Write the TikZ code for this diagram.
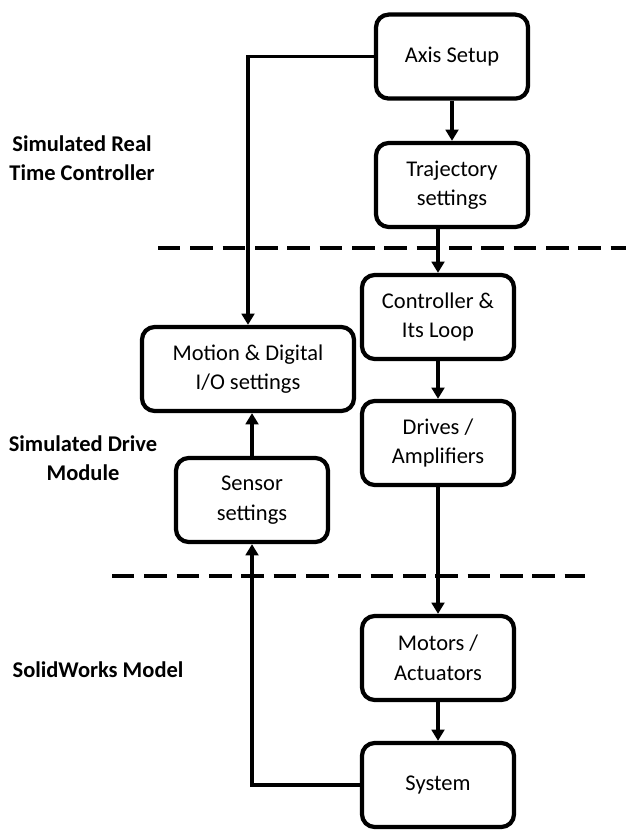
\documentclass[tikz,border=0pt]{standalone}
\usepackage{fontspec}
\setmainfont{Carlito}
\usetikzlibrary{arrows.meta}

\begin{document}
\begin{tikzpicture}[
            box/.style={rectangle, rounded corners=9pt, draw, line width=3pt, minimum width=3.8cm, minimum height=2.1cm, text centered, align=center, font=\fontsize{16}{21}\selectfont},
            zone/.style={align=center, font=\bfseries\fontsize{16}{21}\selectfont},
            arrow/.style={-{Triangle[length=8pt,width=9pt]}, line width=2.6pt},
            divider/.style={line width=3.5pt, dash pattern=on 16pt off 7pt}
        ]
            \useasboundingbox (0,0) rectangle (15.65,20.825);

            % Real time controller
            \node[box] (axis) at (11.3,19.41) {Axis Setup};
            \node[box] (traj) at (11.3,16.2) {Trajectory\\settings};

            % Drive module
            \node[box] (ctrl) at (10.95,12.9) {Controller \&\\Its Loop};
            \node[box] (drives) at (10.95,9.75) {Drives /\\Amplifiers};
            \node[box, minimum width=5.3cm] (motion) at (6.2,11.6) {Motion \& Digital\\I/O settings};
            \node[box] (sensor) at (6.3,8.325) {Sensor\\settings};

            % SolidWorks model
            \node[box] (motors) at (10.95,4.375) {Motors /\\Actuators};
            \node[box] (system) at (10.95,1.2) {System};

            % Zone names
            \node[zone] (zrt) at (2.05,16.875) {Simulated Real\\Time Controller};
            \node[zone] (zdm) at (2.075,9.375) {Simulated Drive\\Module};
            \node[zone] (zsw) at (2.45,4.075) {SolidWorks Model};

            % Dividers
            \coordinate (d1a) at (3.95,14.625);
            \coordinate (d1b) at (15.65,14.625);
            \coordinate (d2a) at (2.8,6.425);
            \coordinate (d2b) at (14.625,6.425);
            \draw[divider] (d1a) -- (d1b);
            \draw[divider] (d2a) -- (d2b);

            % Connections
            \draw[arrow] (axis) -- (traj);
            \draw[arrow] (traj.south -| ctrl.north) -- (ctrl.north);
            \draw[arrow] (ctrl) -- (drives);
            \draw[arrow] (drives) -- (motors);
            \draw[arrow] (motors) -- (system);
            \draw[arrow] (axis.west) -| (motion.north);
            \draw[arrow] (sensor.north) -- (sensor.north |- motion.south);
            \draw[arrow] (system.west) -| (sensor.south);

        \end{tikzpicture}
\end{document}
